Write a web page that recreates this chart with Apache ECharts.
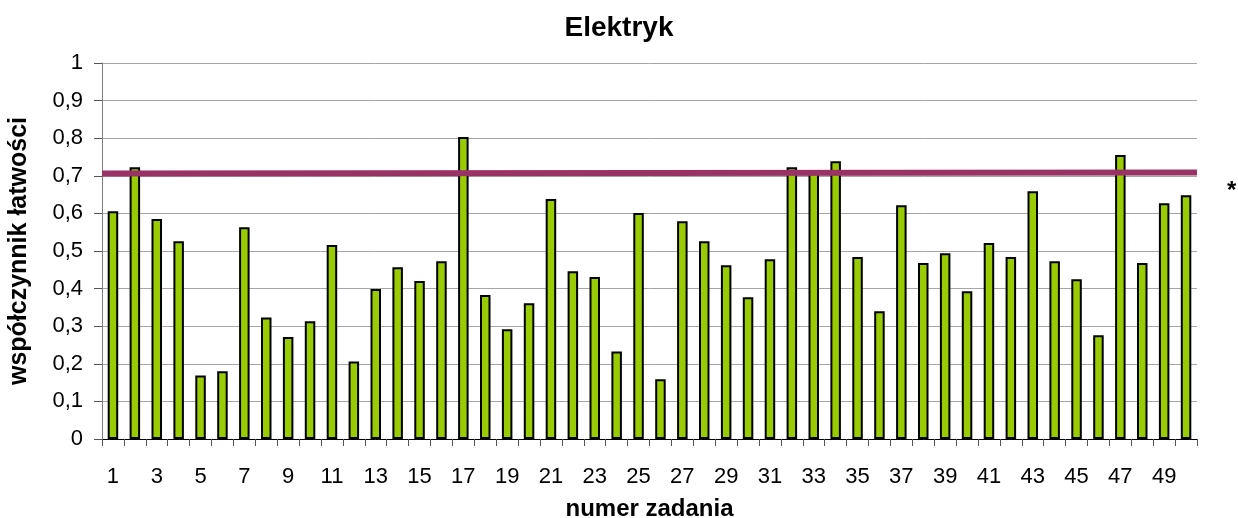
<!DOCTYPE html>
<html>
<head>
<meta charset="utf-8">
<script src="https://cdn.jsdelivr.net/npm/echarts@6/dist/echarts.min.js"></script>
<style>
  html, body { margin: 0; padding: 0; background: #fff; }
  #chart { width: 1238px; height: 518px; }
</style>
</head>
<body>
<div id="chart"></div>
<script>
// numery zadań
const categories = ['1','2','3','4','5','6','7','8','9','10','11','12','13','14','15','16','17','18','19','20',
  '21','22','23','24','25','26','27','28','29','30','31','32','33','34','35','36','37','38','39','40',
  '41','42','43','44','45','46','47','48','49','50'];

// współczynnik łatwości dla każdego zadania
const values = [0.606, 0.723, 0.585, 0.526, 0.169, 0.180, 0.563, 0.323, 0.271, 0.313,
  0.516, 0.206, 0.399, 0.457, 0.420, 0.473, 0.803, 0.383, 0.292, 0.361,
  0.638, 0.446, 0.431, 0.233, 0.601, 0.159, 0.579, 0.526, 0.462, 0.377,
  0.478, 0.723, 0.710, 0.739, 0.484, 0.340, 0.622, 0.468, 0.494, 0.393,
  0.521, 0.484, 0.659, 0.473, 0.425, 0.276, 0.755, 0.468, 0.627, 0.648];

// linia odniesienia (początek i koniec)
const lineX = [0, 1];
const lineY = [0.706, 0.709];

const yTicks = [0, 0.1, 0.2, 0.3, 0.4, 0.5, 0.6, 0.7, 0.8, 0.9, 1];

const chart = echarts.init(document.getElementById('chart'));
const font = 'Liberation Sans, Arial, sans-serif';

chart.setOption({
  animation: false,
  backgroundColor: '#fff',
  title: {
    text: 'Elektryk',
    left: 'center',
    top: 9,
    textStyle: { fontFamily: font, fontSize: 28, fontWeight: 'bold', color: '#000' }
  },
  grid: { left: 102, right: 41, top: 63, bottom: 79, outerBoundsMode: 'none', containLabel: false },
  xAxis: [
    {
      type: 'category',
      data: categories,
      name: 'numer zadania',
      nameLocation: 'middle',
      nameGap: 58,
      nameTextStyle: { fontFamily: font, fontSize: 24, fontWeight: 'bold', color: '#000' },
      axisLine: { lineStyle: { color: '#000', width: 1 } },
      axisTick: { show: true, interval: 0, length: 7, lineStyle: { color: '#555' } },
      axisLabel: { interval: 1, margin: 27, fontFamily: font, fontSize: 22, color: '#000' },
      splitLine: { show: false }
    },
    {
      type: 'value',
      min: 0,
      max: 1,
      show: false
    }
  ],
  yAxis: {
    type: 'value',
    min: 0,
    max: 1,
    interval: 0.1,
    name: 'współczynnik łatwości',
    nameLocation: 'middle',
    nameGap: 70,
    nameTextStyle: { fontFamily: font, fontSize: 25, fontWeight: 'bold', color: '#000' },
    axisLine: { show: true, lineStyle: { color: '#808080', width: 1 } },
    axisTick: { show: true, length: 8, lineStyle: { color: '#555' } },
    axisLabel: {
      margin: 19,
      fontFamily: font,
      fontSize: 22,
      color: '#000',
      formatter: v => {
        const t = yTicks.find(x => Math.abs(x - v) < 1e-6);
        return t === undefined ? '' : (t === 0 || t === 1 ? String(t) : t.toFixed(1).replace('.', ','));
      }
    },
    splitLine: { show: true, lineStyle: { color: '#a6a6a6', width: 1 } }
  },
  series: [
    {
      type: 'bar',
      data: values,
      barWidth: 10.5,
      itemStyle: { color: '#99cc00', borderColor: '#000', borderWidth: 2 }
    },
    {
      type: 'line',
      xAxisIndex: 1,
      data: lineX.map((x, i) => [x, lineY[i]]),
      symbol: 'none',
      clip: false,
      lineStyle: { color: '#993366', width: 6 },
      z: 5
    }
  ],
  graphic: [
    {
      type: 'text',
      left: 1227,
      top: 179,
      style: { text: '*', fontFamily: font, fontSize: 24, fontWeight: 'bold', fill: '#000' }
    }
  ]
});
</script>
</body>
</html>
